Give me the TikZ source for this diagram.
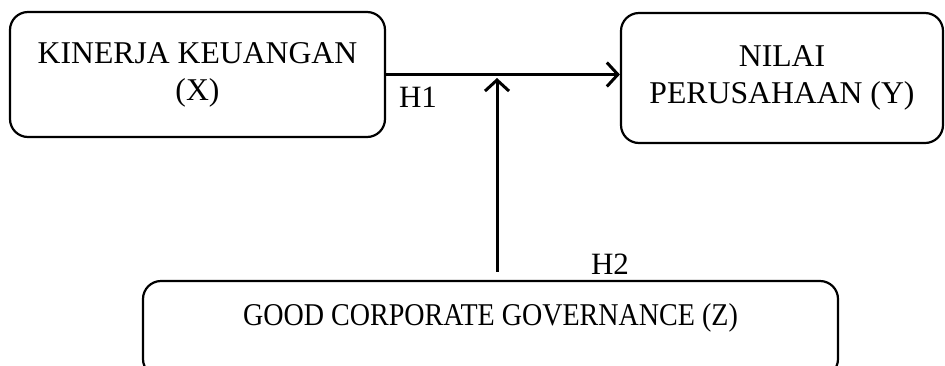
\documentclass[tikz,border=0pt]{standalone}
\usepackage{fontspec}
\setmainfont{Liberation Serif}
\usetikzlibrary{arrows.meta,positioning,calc}

\begin{document}
\begin{tikzpicture}[
    x=1pt, y=-1pt,
    >={Straight Barb[length=11pt,width=24pt]}
]

\tikzset{
    b/.style={
        rounded corners=18pt,
        draw=black,
        line width=2.2pt,
        align=center,
        inner sep=0pt,
        font=\fontsize{31.7}{37}\selectfont
    },
    lbl/.style={
        inner sep=0pt,
        font=\fontsize{31}{37}\selectfont
    }
}

\clip (0,0) rectangle (945,365);

\node[
    b,
    minimum width=375pt,
    minimum height=125pt
] (kinerja) at (197.5,74.5)
{KINERJA KEUANGAN\\(X)};

\node[
    b,
    minimum width=322pt,
    minimum height=130pt
] (nilai) at (782,78)
{NILAI\\PERUSAHAAN (Y)};

\node[
    b,
    minimum width=695pt,
    minimum height=96pt,
    text depth=30pt
] (gcg) at (490.5,329)
{\scalebox{0.885}[1]{GOOD CORPORATE GOVERNANCE (Z)}};

\coordinate (mod) at (497,73);

\draw[->,line width=3pt]
(kinerja.east)--(kinerja.east -| nilai.west);

\draw[->,line width=3pt,shorten <=8pt,shorten >=5pt]
(mod |- gcg.north)--(mod);

\node[lbl] (h1) at (418,97) {H1};
\node[lbl] (h2) at (610,264) {H2};

\end{tikzpicture}
\end{document}
